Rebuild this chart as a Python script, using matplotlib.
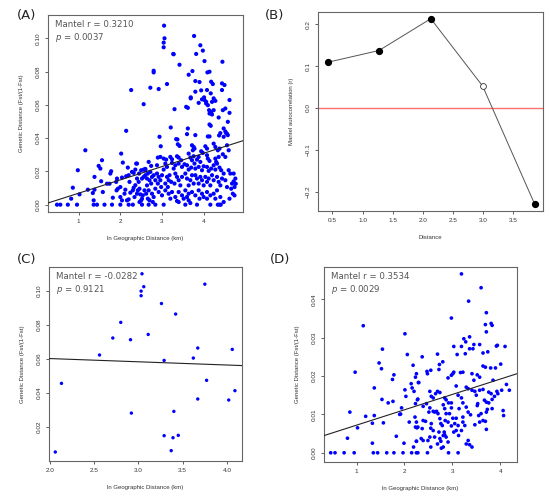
import matplotlib
matplotlib.use("Agg")
import matplotlib.pyplot as plt
import numpy as np

# ---------------- data ----------------
# Panel A: ln geographic distance vs genetic distance
A_x = [3.05,3.06,3.04,3.04,3.77,3.92,3.98,3.27,3.28,3.82,4.02,4.45,3.42,2.80,2.80,3.73,3.64,4.09,4.14,3.80,
       3.90,4.18,4.22,4.44,4.50,3.12,2.72,2.26,2.92,3.80,3.94,4.08,4.17,4.44,3.69,3.69,4.01,3.96,4.02,4.06,
       4.24,4.28,4.20,4.62,3.88,4.06,4.10,2.56,3.30,3.58,3.62,4.13,4.18,4.24,4.46,4.52,4.62,4.14,4.20,4.36,
       4.58,3.21,3.62,4.14,4.17,4.48,2.14,4.10,4.14,4.40,4.37,4.52,4.56,2.94,3.60,3.34,4.48,3.80,4.54,4.58,
       3.37,2.97,3.38,3.42,3.72,3.76,3.78,3.74,4.04,4.08,4.24,4.28,4.34,4.38,4.56,4.60,3.94,3.98,4.46,4.52,
       2.68,2.90,2.96,3.04,3.10,3.20,3.24,3.36,3.40,3.46,3.64,3.68,3.72,3.76,3.88,3.84,3.92,4.08,4.10,4.14,
       4.28,4.30,4.36,3.08,3.12,3.04,3.24,3.32,3.28,3.40,3.48,3.54,3.60,3.64,3.70,3.78,3.80,3.88,3.96,4.00,
       4.08,4.12,4.18,4.24,4.28,4.32,4.38,4.42,4.60,4.64,4.72,4.76,4.68,4.74,2.60,2.66,2.72,2.76,2.80,2.84,
       2.70,2.74,2.64,2.88,2.92,2.96,3.00,2.90,2.98,3.12,3.18,3.16,3.22,3.08,3.14,3.32,3.36,3.40,3.30,3.44,
       3.48,3.56,3.60,3.68,3.72,3.64,3.76,3.80,3.84,3.88,3.92,3.96,4.00,4.04,4.08,4.12,4.16,4.20,4.24,4.32,
       4.36,4.40,4.44,4.48,4.52,4.56,2.68,2.76,2.84,2.92,3.00,2.80,3.08,3.16,3.24,3.32,3.20,3.40,3.48,3.56,
       3.64,3.52,3.72,3.80,3.88,3.96,4.00,4.08,4.16,4.24,4.32,4.40,4.48,4.28,4.08,3.36,3.40,3.64,3.68,3.90,
       3.60,1.16,2.02,1.56,2.06,2.38,1.48,1.52,0.98,1.78,1.76,2.18,2.56,2.60,1.38,1.54,2.04,2.14,2.20,1.90,
       1.92,2.28,2.36,2.32,0.86,1.02,0.82,1.22,1.38,1.34,1.58,1.68,1.74,2.00,1.94,1.91,2.12,2.10,1.82,2.00,
       2.04,1.36,2.16,2.20,2.24,2.30,2.32,2.42,2.46,2.48,2.52,2.56,2.60,2.64,2.40,2.22,2.58,2.54,2.52,2.50,
       0.48,0.56,0.74,0.96,1.36,1.44,1.62,1.80,2.00,2.20,2.30,2.52,2.68,2.84,3.04,3.56,3.84,4.16,4.34,4.38,
       4.41,2.40,2.74,2.88,2.45,2.50,2.44,2.36,2.40,2.34,2.46,2.62,2.66,2.70,2.78,4.66,4.70,4.74,4.62,4.77,
       4.72]
A_y = [0.1076,0.1000,0.0974,0.0946,0.1014,0.0958,0.0926,0.0906,0.0904,0.0906,0.0863,0.0859,0.0841,0.0805,0.0795,0.0803,0.0781,0.0795,0.0799,0.0743,
       0.0737,0.0739,0.0725,0.0729,0.0719,0.0725,0.0703,0.0689,0.0695,0.0679,0.0687,0.0689,0.0669,0.0689,0.0645,0.0639,0.0645,0.0633,0.0629,0.0618,
       0.0639,0.0624,0.0618,0.0629,0.0612,0.0608,0.0598,0.0604,0.0574,0.0588,0.0582,0.0568,0.0558,0.0568,0.0568,0.0578,0.0552,0.0548,0.0542,0.0524,
       0.0498,0.0464,0.0458,0.0482,0.0474,0.0458,0.0444,0.0410,0.0410,0.0430,0.0416,0.0440,0.0426,0.0408,0.0424,0.0394,0.0408,0.0418,0.0430,0.0418,
       0.0392,0.0351,0.0363,0.0353,0.0357,0.0347,0.0337,0.0327,0.0351,0.0337,0.0367,0.0347,0.0327,0.0337,0.0357,0.0327,0.0321,0.0311,0.0303,0.0287,
       0.0257,0.0283,0.0287,0.0277,0.0271,0.0287,0.0273,0.0291,0.0283,0.0267,0.0307,0.0283,0.0267,0.0291,0.0287,0.0271,0.0257,0.0297,0.0277,0.0263,
       0.0277,0.0257,0.0287,0.0247,0.0227,0.0211,0.0251,0.0237,0.0217,0.0247,0.0227,0.0243,0.0237,0.0211,0.0223,0.0247,0.0217,0.0227,0.0207,0.0231,
       0.0227,0.0203,0.0217,0.0237,0.0211,0.0247,0.0223,0.0207,0.0207,0.0187,0.0187,0.0157,0.0127,0.0106,0.0207,0.0187,0.0197,0.0167,0.0177,0.0147,
       0.0147,0.0127,0.0116,0.0187,0.0167,0.0147,0.0177,0.0127,0.0106,0.0167,0.0177,0.0147,0.0137,0.0127,0.0106,0.0187,0.0167,0.0147,0.0127,0.0116,
       0.0167,0.0187,0.0157,0.0147,0.0177,0.0116,0.0127,0.0177,0.0157,0.0127,0.0167,0.0147,0.0116,0.0167,0.0137,0.0157,0.0116,0.0177,0.0147,0.0167,
       0.0137,0.0116,0.0157,0.0187,0.0147,0.0106,0.0086,0.0066,0.0096,0.0076,0.0056,0.0046,0.0086,0.0066,0.0076,0.0046,0.0036,0.0076,0.0056,0.0086,
       0.0066,0.0036,0.0076,0.0056,0.0086,0.0066,0.0046,0.0076,0.0056,0.0066,0.0086,0.0046,0.0016,0.0036,0.0036,0.0022,0.0016,0.0026,0.0010,0.0036,
       0.0046,0.0327,0.0307,0.0267,0.0253,0.0247,0.0233,0.0217,0.0207,0.0201,0.0187,0.0223,0.0211,0.0215,0.0167,0.0141,0.0163,0.0171,0.0177,0.0137,
       0.0157,0.0197,0.0211,0.0191,0.0102,0.0062,0.0036,0.0090,0.0090,0.0070,0.0076,0.0126,0.0126,0.0106,0.0096,0.0086,0.0090,0.0066,0.0042,0.0046,
       0.0026,0.0026,0.0026,0.0032,0.0072,0.0086,0.0102,0.0086,0.0096,0.0062,0.0157,0.0167,0.0177,0.0157,0.0157,0.0137,0.0086,0.0056,0.0036,0.0026,
       0.0,0.0,0.0,0.0,0.0,0.0,0.0,0.0,0.0,0.0,0.0,0.0,0.0,0.0,0.0,0.0,0.0,0.0,0.0,0.0,
       0.0,0.0247,0.0233,0.0237,0.0187,0.0207,0.0137,0.0117,0.0066,0.0046,0.0016,0.0066,0.0036,0.0026,0.0016,0.0096,0.0066,0.0056,0.0036,0.0126,
       0.0140]
A_fit = [-0.0011, 0.0080]          # intercept, slope
A_stats = ["0.3210", "0.0037"]

# Panel B: Mantel correlogram
B_dist = [0.42, 1.27, 2.13, 2.99, 3.85]
B_r = [0.109, 0.137, 0.213, 0.052, -0.229]
B_sig = [True, True, True, False, True]

# Panel C
C_x = [2.06,2.13,2.56,2.71,2.80,2.91,2.92,3.03,3.03,3.04,3.06,3.11,3.26,3.29,3.29,3.37,3.39,3.40,3.42,3.45,
       3.62,3.67,3.67,3.75,3.77,4.02,4.06,4.09]
C_y = [0.0051,0.0455,0.0622,0.0722,0.0814,0.0712,0.0280,0.0998,0.0971,0.1100,0.1024,0.0743,0.0925,0.0590,0.0147,0.0059,0.0135,0.0290,0.0863,0.0149,
       0.0604,0.0663,0.0363,0.1039,0.0473,0.0357,0.0655,0.0412]
C_fit = [0.0639, -0.0019]
C_stats = ["-0.0282", "0.9121"]

# Panel D
D_x = [1.14,2.01,2.06,1.54,1.47,1.52,0.97,2.18,2.25,2.23,1.78,1.75,1.37,2.14,2.16,2.01,2.03,2.20,2.28,2.29,
       1.53,1.76,1.66,0.86,1.19,1.37,1.02,1.94,1.90,1.92,1.56,1.33,2.10,2.23,2.26,1.83,0.81,1.33,1.99,2.25,
       2.19,0.46,0.55,0.74,0.95,1.35,1.44,1.63,1.78,1.97,2.15,2.25,
       3.19,3.60,3.34,2.98,3.71,3.69,3.81,3.83,3.71,3.24,3.36,3.28,3.03,3.19,3.45,3.57,3.92,3.94,4.10,3.10,
       3.27,3.36,3.43,3.64,3.74,2.37,2.69,2.47,2.55,2.48,2.73,2.80,2.72,2.30,2.91,2.98,3.03,3.01,3.17,3.22,
       3.41,3.45,3.52,3.57,3.64,3.69,3.80,3.90,4.01,3.85,4.13,4.19,2.53,2.69,2.74,2.65,3.08,3.29,3.33,3.41,
       3.47,3.57,3.64,3.76,3.81,3.93,4.03,2.56,2.60,2.27,2.23,2.84,2.87,2.92,2.98,3.12,3.19,3.22,3.50,3.53,
       3.67,3.71,3.76,3.83,3.88,3.95,4.06,4.07,3.83,2.39,2.46,2.53,2.51,2.60,2.63,2.67,2.70,2.81,2.84,2.87,
       2.85,2.98,2.94,3.01,3.08,3.14,3.22,3.29,3.33,3.38,3.52,3.55,3.60,3.57,3.64,3.71,3.73,3.69,3.47,3.71,
       2.22,2.25,2.28,2.39,2.44,2.37,2.56,2.55,2.60,2.74,2.76,2.79,2.83,2.72,2.91,2.98,3.05,3.12,3.03,3.08,
       3.22,3.26,3.19,3.13,2.25,2.35,2.39,2.49,2.53,2.55,2.63,2.74,2.76,2.81,2.84,2.87,2.91,2.69,2.77,2.81,
       3.33,3.36,3.29,3.41,2.28,2.48,2.92,3.12]
D_y = [0.0331,0.0310,0.0256,0.0270,0.0234,0.0219,0.0210,0.0228,0.0206,0.0197,0.0203,0.0191,0.0169,0.0180,0.0169,0.0164,0.0147,0.0160,0.0140,0.0183,
       0.0139,0.0134,0.0130,0.0106,0.0095,0.0097,0.0065,0.0117,0.0100,0.0101,0.0078,0.0077,0.0080,0.0067,0.0065,0.0043,0.0038,0.0025,0.0025,0.0030,
       0.0015,0.0,0.0,0.0,0.0,0.0,0.0,0.0,0.0,0.0,0.0,0.0,
       0.0466,0.0430,0.0395,0.0351,0.0365,0.0334,0.0337,0.0332,0.0315,0.0297,0.0302,0.0289,0.0277,0.0277,0.0282,0.0282,0.0278,0.0280,0.0277,0.0256,
       0.0258,0.0271,0.0271,0.0260,0.0263,0.0250,0.0257,0.0212,0.0215,0.0206,0.0230,0.0237,0.0217,0.0183,0.0195,0.0202,0.0210,0.0206,0.0209,0.0210,
       0.0206,0.0189,0.0203,0.0197,0.0226,0.0223,0.0221,0.0221,0.0231,0.0189,0.0178,0.0163,0.0160,0.0160,0.0157,0.0154,0.0174,0.0171,0.0167,0.0163,
       0.0160,0.0163,0.0165,0.0158,0.0154,0.0160,0.0163,0.0147,0.0143,0.0138,0.0128,0.0143,0.0138,0.0130,0.0130,0.0150,0.0143,0.0130,0.0150,0.0128,
       0.0137,0.0132,0.0130,0.0139,0.0147,0.0154,0.0110,0.0097,0.0115,0.0121,0.0128,0.0117,0.0106,0.0108,0.0106,0.0108,0.0102,0.0125,0.0115,0.0102,
       0.0084,0.0117,0.0102,0.0090,0.0090,0.0115,0.0093,0.0119,0.0106,0.0099,0.0123,0.0097,0.0102,0.0080,0.0084,0.0106,0.0113,0.0082,0.0073,0.0061,
       0.0093,0.0080,0.0067,0.0084,0.0082,0.0063,0.0076,0.0064,0.0058,0.0089,0.0076,0.0071,0.0054,0.0054,0.0080,0.0070,0.0076,0.0071,0.0054,0.0058,
       0.0080,0.0071,0.0058,0.0045,0.0030,0.0037,0.0032,0.0032,0.0041,0.0015,0.0041,0.0037,0.0030,0.0045,0.0047,0.0041,0.0028,0.0023,0.0012,0.0015,
       0.0032,0.0021,0.0023,0.0015,0.0,0.0,0.0,0.0]
D_fit = [0.0032, 0.0040]
D_stats = ["0.3534", "0.0029"]

A_xticks = [1, 2, 3, 4]
A_yticks = [0.00, 0.02, 0.04, 0.06, 0.08, 0.10]
B_xticks = [0.5, 1.0, 1.5, 2.0, 2.5, 3.0, 3.5]
B_yticks = [-0.2, -0.1, 0.0, 0.1, 0.2]
C_xticks = [2.0, 2.5, 3.0, 3.5, 4.0]
C_yticks = [0.02, 0.04, 0.06, 0.08, 0.10]
D_xticks = [1, 2, 3, 4]
D_yticks = [0.00, 0.01, 0.02, 0.03, 0.04]

XLAB = "ln Geographic Distance (km)"
YLAB = "Genetic Distance (Fst/(1-Fst)"

# ---------------- figure ----------------
W, H = 550, 500
fig = plt.figure(figsize=(W / 100, H / 100), dpi=100)

def rect(l, t, r, b):
    return [l / W, 1 - b / H, (r - l) / W, (b - t) / H]

TICKFONT = "Liberation Sans"
BOX = "#666666"

def style(ax, xt, yt, xfmt, yfmt, xlabel, ylabel):
    for s in ax.spines.values():
        s.set_color(BOX)
        s.set_linewidth(0.8)
    ax.set_xticks(xt)
    ax.set_yticks(yt)
    ax.set_xticklabels([xfmt.format(v) for v in xt], fontsize=4.6, family=TICKFONT, color="#333333")
    ax.set_yticklabels([yfmt.format(v).replace("-", "\u2212") for v in yt], fontsize=4.6,
                       family=TICKFONT, color="#333333", rotation=90, va="center")
    ax.tick_params(direction="out", length=2.5, width=0.6, color="#444444", pad=2.5)
    ax.set_xlabel(xlabel, fontsize=4.3, family=TICKFONT, color="#333333", labelpad=9)
    ax.set_ylabel(ylabel, fontsize=4.3, family=TICKFONT, color="#333333", labelpad=9)

def mantel(ax, stats):
    ax.text(0.035, 0.975, "Mantel r = " + stats[0] + "\n$p$ = " + stats[1],
            transform=ax.transAxes, va="top", ha="left", fontsize=6.2,
            color="#555555", linespacing=1.2, family="DejaVu Sans")

# A
axA = fig.add_axes(rect(48, 15, 243, 212))
axA.scatter(A_x, A_y, s=9, c="#0000ff", edgecolors="none", zorder=3)
axA.axline((0, A_fit[0]), slope=A_fit[1], color="#222222", lw=0.8, zorder=4)
axA.set_xlim(0.264, 4.944)
axA.set_ylim(-0.0044, 0.114)
style(axA, A_xticks, A_yticks, "{:g}", "{:.2f}", XLAB, YLAB)
mantel(axA, A_stats)

# B
axB = fig.add_axes(rect(318, 12, 543, 211))
axB.axhline(0, color="#ff7070", lw=1.0, zorder=1)
axB.plot(B_dist, B_r, color="#555555", lw=0.7, zorder=2)
for xv, yv, sg in zip(B_dist, B_r, B_sig):
    if sg:
        axB.plot(xv, yv, "o", ms=4.2, mfc="black", mec="black", zorder=3)
    else:
        axB.plot(xv, yv, "o", ms=4.2, mfc="white", mec="#333333", mew=0.6, zorder=3)
axB.set_xlim(0.26, 3.99)
axB.set_ylim(-0.246, 0.229)
style(axB, B_xticks, B_yticks, "{:.1f}", "{:.1f}", "Distance", "Mantel autocorrelation (r)")

# C
axC = fig.add_axes(rect(49, 267, 242, 461))
axC.scatter(C_x, C_y, s=6, c="#0000ff", edgecolors="none", zorder=3)
axC.axline((0, C_fit[0]), slope=C_fit[1], color="#222222", lw=0.8, zorder=4)
axC.set_xlim(1.989, 4.17)
axC.set_ylim(-0.0002, 0.114)
style(axC, C_xticks, C_yticks, "{:.1f}", "{:.2f}", XLAB, YLAB)
mantel(axC, C_stats)

# D
axD = fig.add_axes(rect(324, 267, 517, 462))
axD.scatter(D_x, D_y, s=7, c="#0000ff", edgecolors="none", zorder=3)
axD.axline((0, D_fit[0]), slope=D_fit[1], color="#222222", lw=0.8, zorder=4)
axD.set_xlim(0.32, 4.35)
axD.set_ylim(-0.0024, 0.0484)
style(axD, D_xticks, D_yticks, "{:g}", "{:.2f}", XLAB, YLAB)
mantel(axD, D_stats)

# panel labels
for lab, px, py in [("(A)", 17, 16), ("(B)", 265, 16), ("(C)", 17, 259), ("(D)", 270, 259)]:
    fig.text(px / W, 1 - py / H, lab, fontsize=9.5, va="center", ha="left",
             color="#222222", family="DejaVu Sans")

fig.savefig("out.png", dpi=100)
